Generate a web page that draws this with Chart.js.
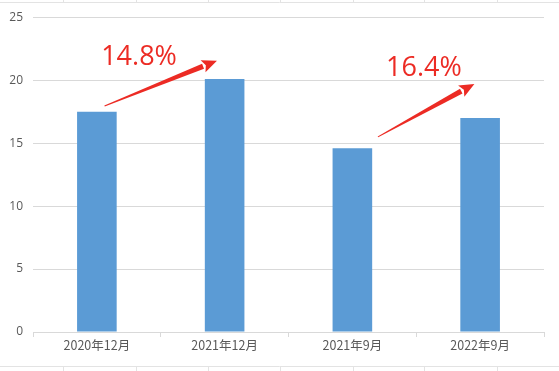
<!DOCTYPE html>
<html>
<head>
<meta charset="utf-8">
<script src="https://cdn.jsdelivr.net/npm/chart.js@4"></script>
<style>
html,body{margin:0;padding:0;background:#fff;}
#wrap{width:559px;height:371px;position:relative;}
</style>
</head>
<body>
<div id="wrap"><canvas id="c" width="559" height="371"></canvas></div>
<script>
const categories = ["2020年12月", "2021年12月", "2021年9月", "2022年9月"];
const values = [17.5, 20.1, 14.6, 17.0];
const yTicks = [0, 5, 10, 15, 20, 25];
// growth annotations, in data coordinates (category index, value)
const growthLabels = ["14.8%", "16.4%"];
const labelPos = [[0.33, 21.2], [2.56, 20.3]];
const arrowFrom = [[0.06, 17.95], [2.2, 15.5]];
const arrowTo = [[0.94, 21.55], [2.955, 19.7]];

const RED = "#ec2b24";

const decor = {
  id: "decor",
  beforeDraw(chart) {
    const ctx = chart.ctx;
    ctx.save();
    ctx.strokeStyle = "#e3e3e3";
    ctx.lineWidth = 1;
    ctx.beginPath();
    ctx.moveTo(0, 2.5); ctx.lineTo(559, 2.5);
    ctx.moveTo(0, 366.5); ctx.lineTo(559, 366.5);
    [63, 136, 208, 280, 353, 424, 497].forEach(x => {
      ctx.moveTo(x + 0.5, 0); ctx.lineTo(x + 0.5, 2.5);
      ctx.moveTo(x + 0.5, 366.5); ctx.lineTo(x + 0.5, 371);
    });
    ctx.stroke();
    ctx.restore();
  },
  afterDraw(chart) {
    const ctx = chart.ctx;
    const xs = chart.scales.x, ys = chart.scales.y;
    const px = v => {
      const i = Math.floor(v), f = v - i;
      const a = xs.getPixelForValue(i), b = xs.getPixelForValue(i + 1);
      return a + (b - a) * f;
    };
    ctx.save();
    ctx.fillStyle = RED;
    ctx.font = "27px 'Open Sans', 'Noto Sans', sans-serif";
    ctx.textAlign = "center";
    ctx.textBaseline = "alphabetic";
    growthLabels.forEach((t, k) => {
      ctx.fillText(t, px(labelPos[k][0]), ys.getPixelForValue(labelPos[k][1]));
    });
    arrowFrom.forEach((f, k) => {
      const x1 = px(f[0]), y1 = ys.getPixelForValue(f[1]);
      const x2 = px(arrowTo[k][0]), y2 = ys.getPixelForValue(arrowTo[k][1]);
      const ang = Math.atan2(y2 - y1, x2 - x1);
      const headL = 15, headW = 6.5;
      const bx = x2 - headL * Math.cos(ang), by = y2 - headL * Math.sin(ang);
      const nx = -Math.sin(ang), ny = Math.cos(ang);
      ctx.beginPath();
      ctx.moveTo(x1 + nx * 0.5, y1 + ny * 0.5);
      ctx.lineTo(bx + nx * 2.6, by + ny * 2.6);
      ctx.lineTo(bx - nx * 2.6, by - ny * 2.6);
      ctx.lineTo(x1 - nx * 0.5, y1 - ny * 0.5);
      ctx.closePath();
      ctx.fill();
      ctx.beginPath();
      ctx.moveTo(x2, y2);
      ctx.lineTo(bx + nx * headW, by + ny * headW);
      ctx.lineTo(bx + 3 * Math.cos(ang), by + 3 * Math.sin(ang));
      ctx.lineTo(bx - nx * headW, by - ny * headW);
      ctx.closePath();
      ctx.fill();
    });
    ctx.restore();
  }
};

new Chart(document.getElementById("c"), {
  type: "bar",
  data: {
    labels: categories,
    datasets: [{
      data: values,
      backgroundColor: "#5b9bd5",
      barPercentage: 0.62,
      categoryPercentage: 0.5
    }]
  },
  options: {
    responsive: false,
    animation: false,
    devicePixelRatio: 1,
    layout: { padding: { left: 0, right: 15, top: 12, bottom: 17 } },
    plugins: { legend: { display: false }, tooltip: { enabled: false } },
    scales: {
      x: {
        offset: true,
        grid: { display: true, drawOnChartArea: false, offset: true, tickLength: 5, color: "#d9d9d9" },
        border: { display: true, color: "#d9d9d9" },
        ticks: { color: "#595959", font: { size: 12.5, family: "'Noto Sans CJK SC', sans-serif" }, padding: 1, maxRotation: 0 }
      },
      y: {
        min: 0, max: 25,
        afterBuildTicks: s => { s.ticks = yTicks.map(v => ({ value: v })); },
        afterFit: s => { s.width = 33; },
        grid: { color: "#d9d9d9", drawTicks: false },
        border: { display: false },
        ticks: { color: "#595959", font: { size: 12, family: "'Open Sans', sans-serif" }, padding: 10 }
      }
    }
  },
  plugins: [decor]
});
</script>
</body>
</html>
